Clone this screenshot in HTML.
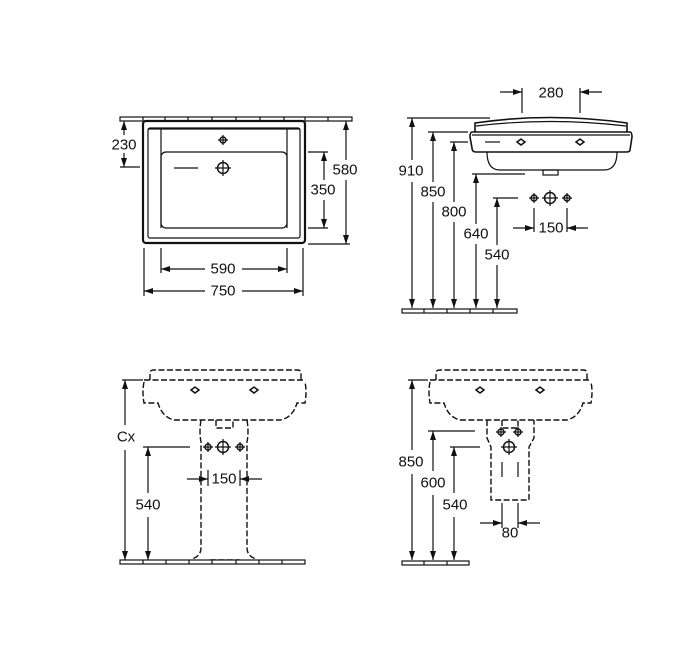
<!DOCTYPE html>
<html><head><meta charset="utf-8"><style>
html,body{margin:0;padding:0;background:#fff;}
svg{display:block;}
text{font-family:"Liberation Sans",sans-serif;font-size:15px;fill:#111;}
</style></head><body>
<svg width="685" height="653" viewBox="0 0 685 653" xmlns="http://www.w3.org/2000/svg">
<defs>
<marker id="a" viewBox="0 0 9 6" refX="9" refY="3" markerWidth="9" markerHeight="6" markerUnits="userSpaceOnUse" orient="auto-start-reverse"><path d="M0,0 L9,3 L0,6 z" fill="#111"/></marker>
<g id="fs"><circle r="3" fill="none" stroke="#111" stroke-width="1.4"/><path d="M-5,0H5M0,-5V5" stroke="#111" stroke-width="1.2"/></g>
<g id="fb"><circle r="5.5" fill="none" stroke="#111" stroke-width="1.5"/><path d="M-8,0H8M0,-8V8" stroke="#111" stroke-width="1.2"/></g>
<g id="hd"><path d="M-4,0 L0,-3 L4,0 L0,3 z" fill="none" stroke="#111" stroke-width="1.5"/></g>
</defs>
<g stroke="#111" stroke-width="1.2" fill="none">
<!-- TOP LEFT -->
<rect x="120" y="117" width="232" height="4" fill="#fff"/>
<path d="M143,117v4M165,117v4M188,117v4M212,117v4M236,117v4M260,117v4M284,117v4M305,117v4M328,117v4"/>
<rect x="143" y="121" width="162" height="122" rx="3" stroke-width="2.2"/>
<rect x="148" y="128" width="152" height="110" rx="2"/>
<path d="M148,129H300"/>
<path d="M161,129V228M287,129V228"/>
<rect x="161" y="152" width="126" height="76" rx="5"/>
<path d="M174,168H198"/>
<use href="#fs" x="223" y="140"/>
<use href="#fb" x="223" y="168"/>
<!-- 230 -->
<path d="M124,135V121" marker-end="url(#a)"/><path d="M124,153V167" marker-end="url(#a)"/><path d="M120,167H140"/>
<!-- 350 -->
<path d="M308,152H328M308,228H328"/>
<path d="M324,180V152" marker-end="url(#a)"/><path d="M324,200V228" marker-end="url(#a)"/>
<!-- 580 -->
<path d="M308,244H350"/>
<path d="M346,160V121" marker-end="url(#a)"/><path d="M346,180V244" marker-end="url(#a)"/>
<!-- 590/750 -->
<path d="M161,248V273M287,248V273M144,248V296M303,248V296"/>
<path d="M205,269H161" marker-end="url(#a)"/><path d="M242,269H287" marker-end="url(#a)"/>
<path d="M205,291H144" marker-end="url(#a)"/><path d="M242,291H303" marker-end="url(#a)"/>

<!-- TOP RIGHT -->
<path d="M522,88V113M580,88V113"/>
<path d="M500,92H522" marker-end="url(#a)"/><path d="M602,92H580" marker-end="url(#a)"/>
<path d="M475,132 L475,123 Q550,112 627,123 L627,132" stroke-width="1.6"/>
<path d="M476,126 Q550,117 626,126"/>
<path d="M472,132 H630 Q632,132 632,137 L630,150 Q630,152 626,152 H476 Q472,152 472,148 L470,137 Q470,132 472,132 Z" stroke-width="1.6"/>
<path d="M472,135H630"/>
<path d="M487,152 Q487,170 500,170 H604 Q617,170 617,152"/>
<rect x="543" y="170" width="15" height="5"/>
<path d="M485,142H500"/>
<use href="#hd" x="521" y="142"/><use href="#hd" x="580" y="142"/>
<path d="M407,118H490M428,132H468M450,142H468M472,174H525M493,198H518"/>
<path d="M412,160V118" marker-end="url(#a)"/><path d="M412,182V308" marker-end="url(#a)"/>
<path d="M433,182V132" marker-end="url(#a)"/><path d="M433,202V308" marker-end="url(#a)"/>
<path d="M454,202V142" marker-end="url(#a)"/><path d="M454,222V308" marker-end="url(#a)"/>
<path d="M476,224V174" marker-end="url(#a)"/><path d="M476,244V308" marker-end="url(#a)"/>
<path d="M497,245V198" marker-end="url(#a)"/><path d="M497,265V308" marker-end="url(#a)"/>
<rect x="402" y="309" width="115" height="4" fill="#fff"/>
<path d="M424,309v4M447,309v4M470,309v4M493,309v4"/>
<use href="#fs" x="534" y="198"/><use href="#fb" x="550" y="198"/><use href="#fs" x="567" y="198"/>
<path d="M534,208V232M567,208V232"/>
<path d="M513,228H534" marker-end="url(#a)"/><path d="M588,228H567" marker-end="url(#a)"/>

<!-- BOTTOM LEFT -->
<g stroke-dasharray="6,2.5" stroke-width="1.4">
<path d="M150,380 V373 Q150,370 154,370 H297 Q301,370 301,373 V380"/>
<path d="M144,380H305"/>
<path d="M144,382 Q142,392 144,403 H158 Q162,417 174,420 H281 Q293,417 297,403 H305 Q307,392 305,382"/>
<path d="M201,420 Q199,432 201,442 V548 Q201,556 192,559"/>
<path d="M247,420 Q249,432 247,442 V548 Q247,556 256,559"/>
<path d="M216,420V428H233V420"/>
<path d="M210,560H240"/>
</g>
<use href="#hd" x="195" y="390"/><use href="#hd" x="254" y="390"/>
<use href="#fs" x="208" y="447"/><use href="#fb" x="223" y="447"/><use href="#fs" x="240" y="447"/>
<path d="M122,380H143M143,447H190"/>
<path d="M125,425V380" marker-end="url(#a)"/><path d="M125,450V560" marker-end="url(#a)"/>
<path d="M148,493V447" marker-end="url(#a)"/><path d="M148,517V560" marker-end="url(#a)"/>
<path d="M208,470V486M240,470V486"/>
<path d="M187,479H208" marker-end="url(#a)"/><path d="M262,479H240" marker-end="url(#a)"/>
<rect x="120" y="560" width="185" height="4" fill="#fff"/>
<path d="M143,560v4M166,560v4M189,560v4M212,560v4M236,560v4M259,560v4M282,560v4"/>

<!-- BOTTOM RIGHT -->
<g stroke-dasharray="6,2.5" stroke-width="1.4">
<path d="M436,380 V373 Q436,370 440,370 H583 Q587,370 587,373 V380"/>
<path d="M430,380H591"/>
<path d="M430,382 Q428,392 430,403 H444 Q448,417 460,420 H567 Q579,417 583,403 H591 Q593,392 591,382"/>
<path d="M487,420 V438 L491,447 V500 H529 V447 L534,438 V420"/>
<path d="M502,420V428H518V420"/>
</g>
<use href="#hd" x="480" y="390"/><use href="#hd" x="540" y="390"/>
<use href="#fs" x="501" y="432"/><use href="#fs" x="518" y="432"/><use href="#fb" x="509" y="447"/>
<path d="M502,462V477M518,462V477"/>
<path d="M502,503V528M518,503V528"/>
<path d="M480,523H502" marker-end="url(#a)"/><path d="M540,523H518" marker-end="url(#a)"/>
<path d="M408,380H428M428,431H475M450,447H480"/>
<path d="M412,450V380" marker-end="url(#a)"/><path d="M412,474V560" marker-end="url(#a)"/>
<path d="M433,471V431" marker-end="url(#a)"/><path d="M433,495V560" marker-end="url(#a)"/>
<path d="M454,493V447" marker-end="url(#a)"/><path d="M454,517V560" marker-end="url(#a)"/>
<rect x="402" y="561" width="67" height="4" fill="#fff"/>
<path d="M424,561v4M447,561v4"/>
</g>
<g text-anchor="middle" dominant-baseline="central">
<text x="124" y="145">230</text>
<text x="323" y="190">350</text>
<text x="345" y="170">580</text>
<text x="223" y="269">590</text>
<text x="223" y="291">750</text>
<text x="551" y="93">280</text>
<text x="411" y="171">910</text>
<text x="433" y="192">850</text>
<text x="454" y="212">800</text>
<text x="476" y="234">640</text>
<text x="497" y="255">540</text>
<text x="551" y="228">150</text>
<text x="126" y="437">Cx</text>
<text x="148" y="505">540</text>
<text x="224" y="479">150</text>
<text x="411" y="462">850</text>
<text x="433" y="483">600</text>
<text x="455" y="505">540</text>
<text x="510" y="533">80</text>
</g>
</svg>
</body></html>
